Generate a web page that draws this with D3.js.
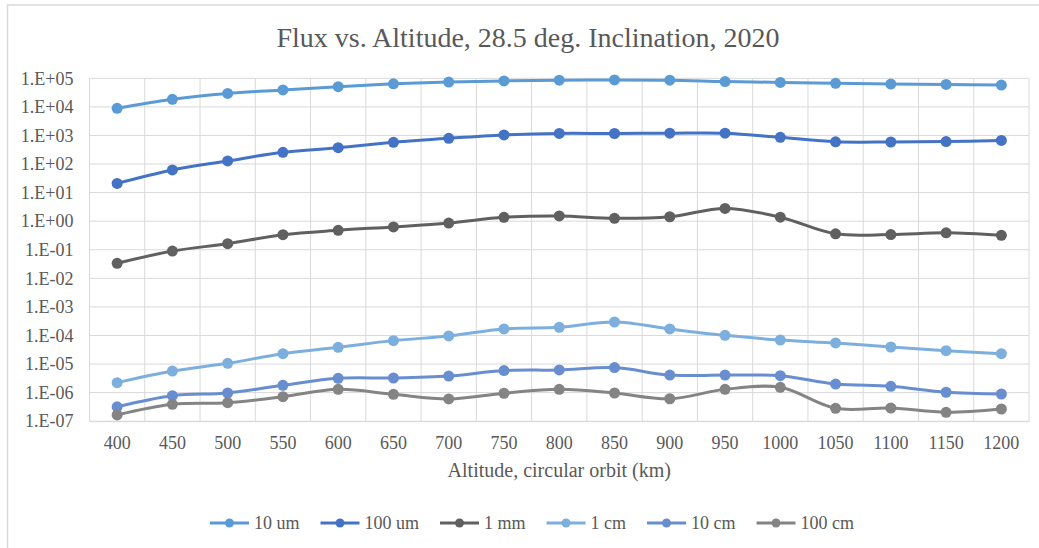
<!DOCTYPE html>
<html>
<head>
<meta charset="utf-8">
<script src="https://cdn.jsdelivr.net/npm/d3@7"></script>
<style>
  html, body { margin: 0; padding: 0; background: #fff; }
  svg { display: block; }
  text { font-family: "Liberation Serif", "Times New Roman", serif; }
</style>
</head>
<body>
<svg id="chart" width="1039" height="548"></svg>
<script>
const altitudes = [400, 450, 500, 550, 600, 650, 700, 750, 800, 850, 900, 950, 1000, 1050, 1100, 1150, 1200];
const seriesNames = ["10 um", "100 um", "1 mm", "1 cm", "10 cm", "100 cm"];
const flux10um  = [8.9e3, 1.84e4, 2.95e4, 3.9e4, 5.1e4, 6.4e4, 7.4e4, 8.1e4, 8.6e4, 8.8e4, 8.6e4, 7.7e4, 7.2e4, 6.7e4, 6.3e4, 6.1e4, 5.8e4];
const flux100um = [21, 62, 128, 257, 372, 575, 795, 1040, 1180, 1170, 1200, 1200, 860, 600, 590, 610, 670];
const flux1mm   = [0.0336, 0.090, 0.163, 0.336, 0.48, 0.63, 0.86, 1.36, 1.52, 1.26, 1.43, 2.8, 1.38, 0.36, 0.34, 0.39, 0.32];
const flux1cm   = [2.23e-6, 5.7e-6, 1.06e-5, 2.3e-5, 3.85e-5, 6.6e-5, 9.6e-5, 1.69e-4, 1.93e-4, 2.96e-4, 1.69e-4, 1.01e-4, 6.95e-5, 5.46e-5, 3.95e-5, 2.94e-5, 2.3e-5];
const flux10cm  = [3.2e-7, 7.8e-7, 9.7e-7, 1.8e-6, 3.17e-6, 3.25e-6, 3.8e-6, 5.9e-6, 6.2e-6, 7.5e-6, 4.1e-6, 4.1e-6, 3.9e-6, 2.0e-6, 1.66e-6, 1.03e-6, 8.95e-7];
const flux100cm = [1.65e-7, 3.9e-7, 4.45e-7, 7.2e-7, 1.3e-6, 8.7e-7, 6.0e-7, 9.5e-7, 1.3e-6, 9.7e-7, 6.1e-7, 1.3e-6, 1.53e-6, 2.83e-7, 2.9e-7, 2.05e-7, 2.67e-7];
const yTicks = [1e5, 1e4, 1e3, 1e2, 1e1, 1e0, 1e-1, 1e-2, 1e-3, 1e-4, 1e-5, 1e-6, 1e-7];
const colors = ["#5B9BD5", "#4472C4", "#606060", "#7CAFDD", "#698ED0", "#848484"];

const allSeries = [flux10um, flux100um, flux1mm, flux1cm, flux10cm, flux100cm];

const svg = d3.select("#chart");
const plot = { left: 89.5, right: 1029, top: 78.3, bottom: 421.2 };

// chart border
svg.append("rect")
  .attr("x", 7.5).attr("y", 5).attr("width", 1060).attr("height", 560)
  .attr("fill", "#fff").attr("stroke", "#d9d9d9").attr("stroke-width", 1.5);

const x = d3.scaleBand().domain(altitudes).range([plot.left, plot.right]).paddingInner(0).paddingOuter(0);
const xc = d => x(d) + x.bandwidth() / 2;
const y = d3.scaleLog().domain([1e-7, 1e5]).range([plot.bottom, plot.top]);

// horizontal gridlines
svg.append("g").selectAll("line").data(yTicks).join("line")
  .attr("x1", plot.left).attr("x2", plot.right)
  .attr("y1", d => y(d)).attr("y2", d => y(d))
  .attr("stroke", "#d9d9d9").attr("stroke-width", 1);

// vertical gridlines at category boundaries
const bounds = altitudes.map(a => x(a)).concat([plot.right]);
svg.append("g").selectAll("line").data(bounds).join("line")
  .attr("x1", d => d).attr("x2", d => d)
  .attr("y1", plot.top).attr("y2", plot.bottom)
  .attr("stroke", "#d9d9d9").attr("stroke-width", 1);

// y axis labels
function fmtE(v) {
  const e = Math.round(Math.log10(v));
  const s = e < 0 ? "-" : "+";
  return "1.E" + s + String(Math.abs(e)).padStart(2, "0");
}
const yAxis = d3.axisLeft(y).tickValues(yTicks).tickFormat(fmtE).tickSize(0).tickPadding(16);
const gy = svg.append("g").attr("transform", `translate(${plot.left},0)`).call(yAxis);
gy.select(".domain").remove();
gy.selectAll("text").attr("font-size", 18).attr("fill", "#595959")
  .attr("font-family", "Liberation Serif, Times New Roman, serif");

// x axis labels
const xAxis = d3.axisBottom(x).tickSize(0).tickPadding(15);
const gx = svg.append("g").attr("transform", `translate(0,${plot.bottom})`).call(xAxis);
gx.select(".domain").attr("stroke", "#d9d9d9");
gx.selectAll("text").attr("font-size", 18).attr("fill", "#595959")
  .attr("font-family", "Liberation Serif, Times New Roman, serif");

// lines
const line = d3.line().x((d, i) => xc(altitudes[i])).y(d => y(d)).curve(d3.curveCatmullRom.alpha(0.5));
allSeries.forEach((vals, si) => {
  svg.append("path").datum(vals)
    .attr("d", line).attr("fill", "none")
    .attr("stroke", colors[si]).attr("stroke-width", 3).attr("stroke-linejoin", "round");
  svg.append("g").selectAll("circle").data(vals).join("circle")
    .attr("cx", (d, i) => xc(altitudes[i])).attr("cy", d => y(d)).attr("r", 5.5)
    .attr("fill", colors[si]);
});

// title
svg.append("text").attr("x", 528).attr("y", 47).attr("text-anchor", "middle")
  .attr("font-size", 28).attr("fill", "#595959")
  .text("Flux vs. Altitude, 28.5 deg. Inclination, 2020");

// axis title
svg.append("text").attr("x", (plot.left + plot.right) / 2).attr("y", 477).attr("text-anchor", "middle")
  .attr("font-size", 20).attr("fill", "#595959")
  .text("Altitude, circular orbit (km)");

// legend
const lg = svg.append("g");
const lineLen = 39, textGap = 5, itemGap = 21, legY = 523;
const items = seriesNames.map((n, i) => {
  const g = lg.append("g");
  g.append("line").attr("x1", 0).attr("x2", lineLen).attr("y1", legY).attr("y2", legY)
    .attr("stroke", colors[i]).attr("stroke-width", 3);
  g.append("circle").attr("cx", lineLen / 2).attr("cy", legY).attr("r", 4.5).attr("fill", colors[i]);
  const t = g.append("text").attr("x", lineLen + textGap).attr("y", legY + 6)
    .attr("font-size", 18).attr("fill", "#595959").text(n);
  return { g, w: lineLen + textGap + t.node().getComputedTextLength() };
});
const total = d3.sum(items, d => d.w) + itemGap * (items.length - 1);
let cx = 532 - total / 2;
items.forEach(it => { it.g.attr("transform", `translate(${cx},0)`); cx += it.w + itemGap; });
</script>
</body>
</html>
